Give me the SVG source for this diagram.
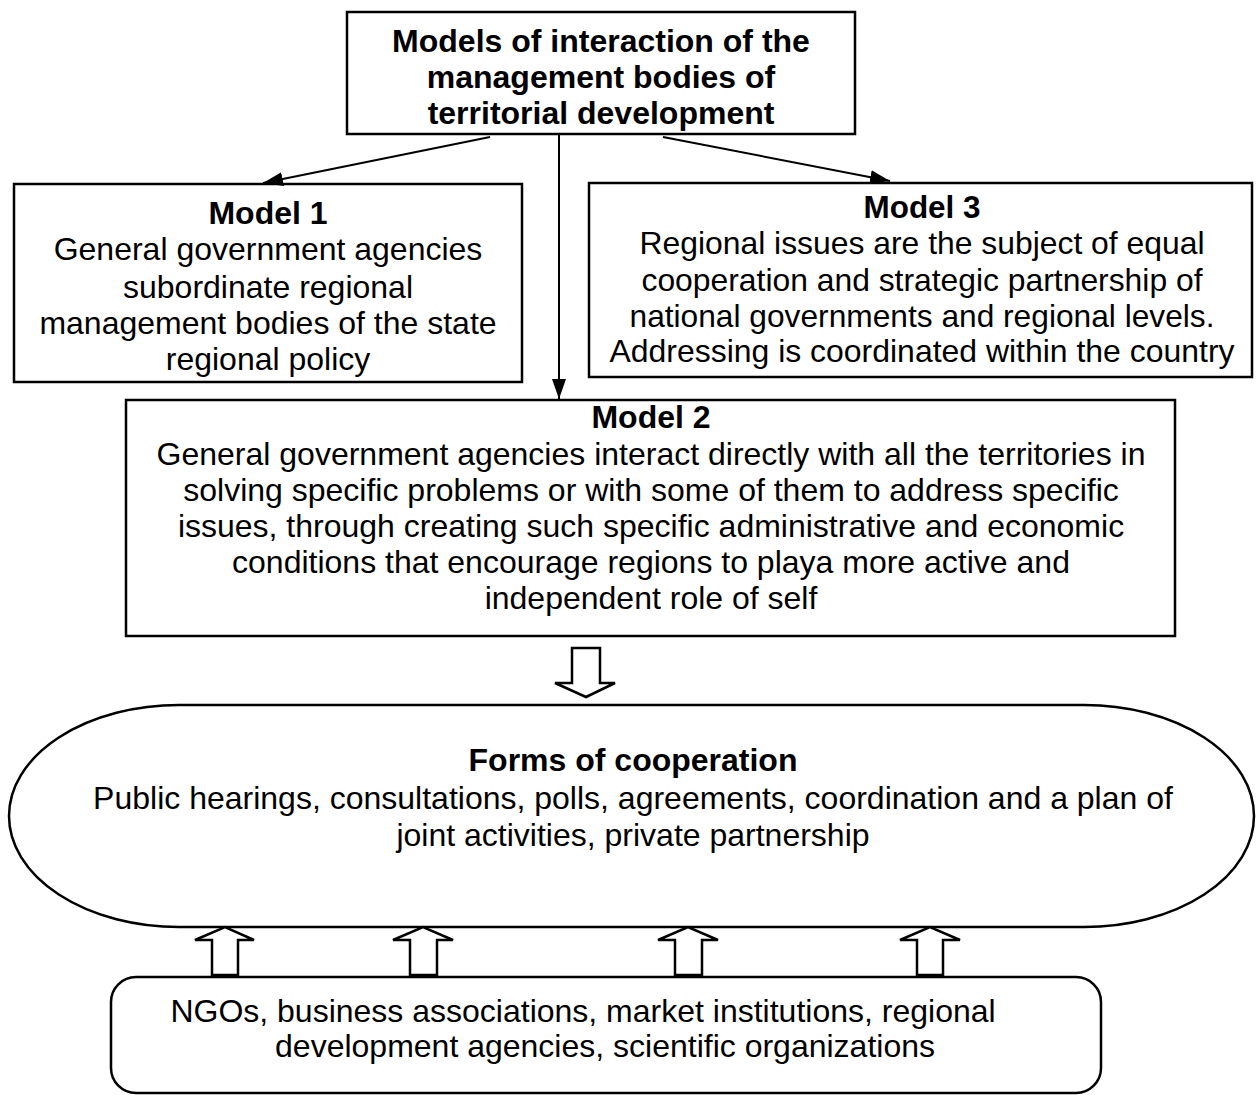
<svg xmlns="http://www.w3.org/2000/svg" width="1256" height="1095" viewBox="0 0 1256 1095">
<style>
  .box { fill: #fff; stroke: #000; stroke-width: 2.5; }
  .t { font-family: "Liberation Sans", Arial, sans-serif; font-size: 32px; fill: #000; text-anchor: middle; }
  .b { font-weight: bold; }
  .conn { stroke: #000; stroke-width: 2; fill: none; }
  .hollow { fill: #fff; stroke: #000; stroke-width: 2.5; stroke-linejoin: miter; }
</style>
<defs>
  <marker id="ah" markerWidth="20" markerHeight="14" refX="20" refY="7" orient="auto" markerUnits="userSpaceOnUse">
    <path d="M0,0 L20,7 L0,14 Z" fill="#000"/>
  </marker>
</defs>
<rect width="1256" height="1095" fill="#fff"/>

<g id="title">
  <rect class="box" x="347" y="12" width="508" height="122"/>
  <text class="t b" x="601" y="52">Models of interaction of the</text>
  <text class="t b" x="601" y="88">management bodies of</text>
  <text class="t b" x="601" y="124">territorial development</text>
</g>

<g id="model1">
  <rect class="box" x="14" y="184" width="508" height="198"/>
  <text class="t b" x="268" y="224">Model 1</text>
  <text class="t" x="268" y="260">General government agencies</text>
  <text class="t" x="268" y="298">subordinate regional</text>
  <text class="t" x="268" y="334">management bodies of the state</text>
  <text class="t" x="268" y="370">regional policy</text>
</g>

<g id="model3">
  <rect class="box" x="589" y="183" width="663" height="194"/>
  <text class="t b" x="922" y="218" textLength="117" lengthAdjust="spacingAndGlyphs">Model 3</text>
  <text class="t" x="922" y="254" textLength="565" lengthAdjust="spacingAndGlyphs">Regional issues are the subject of equal</text>
  <text class="t" x="922" y="291" textLength="561" lengthAdjust="spacingAndGlyphs">cooperation and strategic partnership of</text>
  <text class="t" x="922" y="327" textLength="585" lengthAdjust="spacingAndGlyphs">national governments and regional levels.</text>
  <text class="t" x="922" y="362" textLength="625" lengthAdjust="spacingAndGlyphs">Addressing is coordinated within the country</text>
</g>

<g id="model2">
  <rect class="box" x="126" y="400" width="1049" height="236"/>
  <text class="t b" x="651" y="428">Model 2</text>
  <text class="t" x="651" y="465">General government agencies interact directly with all the territories in</text>
  <text class="t" x="651" y="501">solving specific problems or with some of them to address specific</text>
  <text class="t" x="651" y="537">issues, through creating such specific administrative and economic</text>
  <text class="t" x="651" y="573">conditions that encourage regions to playa more active and</text>
  <text class="t" x="651" y="609">independent role of self</text>
</g>

<g id="forms">
  <rect class="box" x="9" y="705" width="1245" height="222" rx="170" ry="111"/>
  <text class="t b" x="633" y="771">Forms of cooperation</text>
  <text class="t" x="633" y="809">Public hearings, consultations, polls, agreements, coordination and a plan of</text>
  <text class="t" x="633" y="846">joint activities, private partnership</text>
</g>

<g id="actors">
  <rect class="box" x="111" y="977" width="990" height="116" rx="25" ry="25"/>
  <text class="t" x="583" y="1022">NGOs, business associations, market institutions, regional</text>
  <text class="t" x="605" y="1057">development agencies, scientific organizations</text>
</g>

<g id="connectors">
  <line class="conn" x1="490" y1="137" x2="263" y2="183" marker-end="url(#ah)"/>
  <line class="conn" x1="559" y1="134" x2="559" y2="399" marker-end="url(#ah)"/>
  <line class="conn" x1="663" y1="137" x2="890" y2="181" marker-end="url(#ah)"/>
  <path class="hollow" d="M572,648 L600,648 L600,683 L615,683 L586,697 L555,683 L572,683 Z"/>
  <path class="hollow" d="M212,975 L238,975 L238,940 L254,940 L225,927 L195,940 L212,940 Z"/>
  <path class="hollow" d="M410,975 L437,975 L437,940 L453,940 L423,927 L393,940 L410,940 Z"/>
  <path class="hollow" d="M675,975 L702,975 L702,940 L718,940 L688,927 L658,940 L675,940 Z"/>
  <path class="hollow" d="M917,975 L943,975 L943,940 L960,940 L930,927 L900,940 L917,940 Z"/>
</g>
</svg>
